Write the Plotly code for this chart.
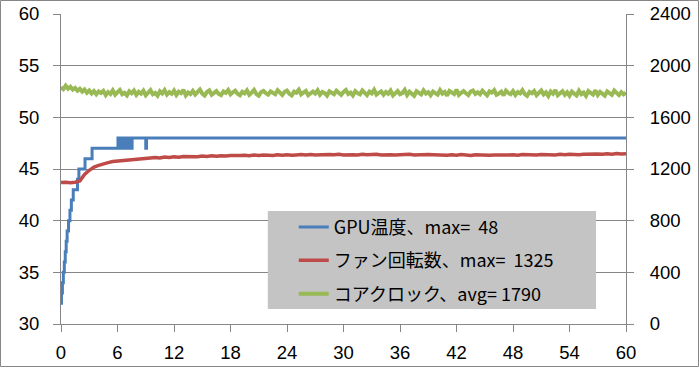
import plotly.graph_objects as go

# ---------------- data ----------------
# GPU temperature (left axis), step changes: time [min], value [deg C]
gpu_t = [0, 0.05, 0.15, 0.25, 0.35, 0.45, 0.55, 0.65, 0.8, 0.95, 1.1, 1.3, 1.75, 1.9, 2.55, 3.3,
         6.05, 6.1, 6.15, 6.2, 6.25, 6.3, 6.35, 6.4, 6.45, 6.5, 6.55, 6.6, 6.65, 6.7, 6.75, 6.8,
         6.85, 6.9, 6.95, 7.0, 7.05, 7.1, 7.15, 7.2, 7.25, 7.3, 7.35, 7.4, 7.45, 7.5, 7.55, 7.6,
         9.0, 9.08, 60]
gpu_v = [32, 33, 34, 35, 36, 37, 38, 39, 40, 41, 42, 43, 44, 45, 46, 47,
         48, 47, 48, 47, 48, 47, 48, 47, 48, 47, 48, 47, 48, 47, 48, 47,
         48, 47, 48, 47, 48, 47, 48, 47, 48, 47, 48, 47, 48, 47, 48, 48,
         47, 48, 48]

# Fan speed (right axis), every 0.5 min from 0 to 60
fan_step = 0.5
fan_v = [1095, 1098, 1094, 1097,
         1108, 1158, 1190, 1214, 1228, 1242, 1249, 1258, 1262, 1268, 1271, 1276, 1278, 1282, 1285, 1286,
         1289, 1286, 1292, 1290, 1295, 1291, 1296, 1294, 1298, 1295, 1300, 1297, 1302, 1299, 1303, 1300, 1305, 1302, 1304, 1307,
         1303, 1308, 1305, 1309, 1306, 1304, 1310, 1307, 1311, 1306, 1309, 1312, 1308, 1313, 1309, 1311, 1307, 1312, 1310, 1314,
         1309, 1313, 1311, 1308, 1314, 1310, 1312, 1315, 1309, 1313, 1311, 1308, 1312, 1310, 1314, 1309, 1311, 1307, 1312, 1310,
         1308, 1311, 1306, 1310, 1307, 1312, 1309, 1305, 1310, 1308, 1311, 1306, 1309, 1307, 1311, 1308, 1310, 1306, 1312, 1309,
         1311, 1308, 1313, 1310, 1312, 1309, 1314, 1311, 1315, 1312, 1310, 1314, 1316, 1313, 1317, 1315, 1318, 1314, 1319, 1316, 1318]

# Core clock (right axis), every 0.25 min from 0 to 60
clk_step = 0.25
clk_v = [1832, 1818, 1845, 1822, 1836, 1815, 1828, 1806, 1821, 1799, 1816, 1790, 1808, 1785, 1803, 1779, 1800,
         1788, 1805, 1772, 1796, 1781, 1809, 1776, 1794, 1812, 1779, 1790, 1770, 1801, 1786, 1808, 1774, 1797, 1783, 1806, 1771,
         1793, 1810, 1778, 1789, 1768, 1802, 1785, 1811, 1776, 1795, 1782, 1807, 1773, 1798, 1787, 1813, 1770, 1792, 1780, 1804,
         1777, 1799, 1815, 1784, 1769, 1796, 1808, 1775, 1790, 1803, 1781, 1772, 1800, 1789, 1811, 1778, 1794, 1806, 1783, 1771,
         1798, 1786, 1809, 1774, 1791, 1812, 1780, 1767, 1795, 1804, 1788, 1776, 1801, 1793, 1779, 1810, 1785, 1773, 1797, 1807,
         1782, 1770, 1799, 1790, 1814, 1777, 1792, 1805, 1771, 1787, 1800, 1784, 1809, 1775, 1796, 1788, 1768, 1802, 1793, 1779,
         1806, 1785, 1774, 1797, 1811, 1780, 1791, 1769, 1803, 1787, 1778, 1808, 1794, 1772, 1799, 1786, 1813, 1776, 1790, 1801,
         1775, 1796, 1783, 1807, 1770, 1792, 1804, 1779, 1788, 1812, 1773, 1798, 1785, 1767, 1802, 1791, 1777, 1809, 1784, 1795,
         1771, 1800, 1789, 1776, 1810, 1783, 1797, 1768, 1805, 1792, 1780, 1814, 1774, 1790, 1803, 1786, 1772, 1799, 1808, 1781,
         1794, 1778, 1806, 1787, 1770, 1801, 1792, 1811, 1775, 1784, 1798, 1769, 1807, 1789, 1779, 1803, 1773, 1796, 1785, 1810,
         1780, 1767, 1797, 1786, 1804, 1772, 1791, 1808, 1777, 1793, 1765, 1800, 1783, 1812, 1771, 1789, 1802, 1775, 1795, 1768,
         1799, 1784, 1770, 1806, 1779, 1792, 1766, 1803, 1788, 1776, 1809, 1773, 1797, 1782, 1768, 1801, 1790, 1774, 1807, 1785,
         1772, 1795, 1778, 1791]

names = ["GPU温度、max= \u00a048", "ファン回転数、max= \u00a01325", "コアクロック、avg= 1790"]
x_ticks = [0, 6, 12, 18, 24, 30, 36, 42, 48, 54, 60]
left_ticks = [30, 35, 40, 45, 50, 55, 60]
right_ticks = [0, 400, 800, 1200, 1600, 2000, 2400]

fan_t = [i * fan_step for i in range(len(fan_v))]
clk_t = [i * clk_step for i in range(len(clk_v))]

# ---------------- figure ----------------
BLUE, RED, GREEN = "#4a7ebb", "#be4b48", "#98b954"
GRID = "#868686"
TICKFONT = dict(family="Liberation Sans, Arial, sans-serif", size=18.5, color="#000000")

fig = go.Figure()
fig.add_trace(go.Scatter(x=gpu_t, y=gpu_v, name=names[0], mode="lines", line=dict(color=BLUE, width=3, shape="hv"),
                         legendgroup="a", yaxis="y"))
fig.add_trace(go.Scatter(x=fan_t, y=fan_v, name=names[1], mode="lines", line=dict(color=RED, width=3.5),
                         legendgroup="b", yaxis="y2"))
fig.add_trace(go.Scatter(x=clk_t, y=clk_v, name=names[2], mode="lines", line=dict(color=GREEN, width=4),
                         legendgroup="c", yaxis="y2"))

# plot area geometry: x 61..626 px, y 14..324 px
fig.update_layout(
    width=699, height=367,
    margin=dict(l=61, r=73, t=14, b=43, pad=0, autoexpand=False),
    paper_bgcolor="white", plot_bgcolor="white",
    showlegend=True,
    legend=dict(x=0.412, y=0.372, xanchor="left", yanchor="top", bgcolor="rgba(0,0,0,0)",
                font=dict(family="Noto Sans CJK JP, sans-serif", size=18, color="#000000"),
                tracegroupgap=7, itemwidth=30, traceorder="grouped"),
    xaxis=dict(range=[0, 60], tickvals=x_ticks, ticks="outside", ticklen=7, tickcolor=GRID,
               showline=True, linecolor=GRID, linewidth=1, showgrid=False, zeroline=False,
               tickfont=TICKFONT, ticklabelstandoff=5, automargin=False),
    yaxis=dict(range=[30, 60], tickvals=left_ticks, ticks="outside", ticklen=7, tickcolor=GRID,
               showline=True, linecolor=GRID, linewidth=1, showgrid=True, gridcolor=GRID, gridwidth=1,
               zeroline=False, tickfont=TICKFONT, ticklabelstandoff=10, automargin=False),
    yaxis2=dict(range=[0, 2400], tickvals=right_ticks, overlaying="y", side="right", ticks="outside",
                ticklen=7, tickcolor=GRID, showline=True, linecolor=GRID, linewidth=1, showgrid=False,
                zeroline=False, tickfont=TICKFONT, ticklabelstandoff=12, automargin=False),
    shapes=[
        # grey legend panel
        dict(type="rect", xref="paper", yref="paper", x0=0.366, x1=0.947, y0=0.048, y1=0.3645,
             fillcolor="#c4c4c4", line=dict(width=0), layer="above"),
        # outer border of chart
        dict(type="rect", xref="paper", yref="paper", x0=-0.1071, x1=1.1283, y0=-0.1371, y1=1.0435,
             fillcolor="rgba(0,0,0,0)", line=dict(color=GRID, width=1)),
    ],
)

fig.write_html("out.html", config={"displayModeBar": False},
               post_script="document.body.style.margin='0';document.body.style.overflow='hidden';")
